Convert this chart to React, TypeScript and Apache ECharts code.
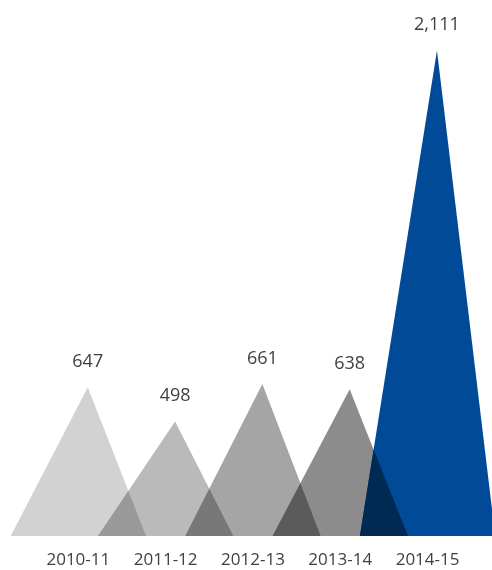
import React, { useEffect, useRef } from "react";
import * as echarts from "echarts";

const categories = ["2010-11", "2011-12", "2012-13", "2013-14", "2014-15"];
const values = [647, 498, 661, 638, 2111];
const colors = ["#d2d2d2", "#bababa", "#a5a5a5", "#8c8c8c", "#004a98"];

function hexToRgb(h: string) {
  const n = parseInt(h.slice(1), 16);
  return [(n >> 16) & 255, (n >> 8) & 255, n & 255];
}
function multiply(a: string, b: string) {
  const x = hexToRgb(a);
  const y = hexToRgb(b);
  const r = x.map((v, i) => Math.round((v * y[i]) / 255));
  return `rgb(${r[0]},${r[1]},${r[2]})`;
}

const HALF = 0.775; // half base width in band units
const APEX = 0.108; // apex offset in band units

export default function App() {
  const ref = useRef<HTMLDivElement>(null);
  useEffect(() => {
    if (!ref.current) return;
    const chart = echarts.init(ref.current, null, { renderer: "svg" });
    const tri = (api: any, idx: number) => {
      const band = api.size([1, 0])[0];
      const base = api.coord([idx, 0]);
      const top = api.coord([idx, values[idx]]);
      return {
        l: base[0] - HALF * band,
        r: base[0] + HALF * band,
        ax: base[0] + APEX * band,
        ay: top[1],
        y0: base[1],
      };
    };
    chart.setOption({
      animation: false,
      grid: { left: 34.7, right: 20.8, top: 30, bottom: 34 },
      xAxis: {
        type: "category",
        data: categories,
        axisLine: { show: false },
        axisTick: { show: false },
        axisLabel: {
          color: "#404040",
          fontFamily: "Open Sans",
          fontSize: 17,
          margin: 14,
        },
      },
      yAxis: {
        type: "value",
        min: 0,
        max: 2200,
        show: false,
        splitLine: { show: false },
      },
      series: [
        {
          type: "custom",
          clip: false,
          data: values.map((v, i) => [i, v]),
          renderItem: (params: any, api: any) => {
            const idx = params.dataIndex;
            const t = tri(api, idx);
            const children: any[] = [
              {
                type: "polygon",
                shape: { points: [[t.l, t.y0], [t.ax, t.ay], [t.r, t.y0]] },
                style: { fill: colors[idx] },
              },
            ];
            if (idx > 0) {
              const p = tri(api, idx - 1);
              const ka = (p.ax - p.r) / (p.y0 - p.ay);
              const kb = (t.ax - t.l) / (t.y0 - t.ay);
              const h = (p.r - t.l) / (kb - ka);
              children.push({
                type: "polygon",
                shape: {
                  points: [[t.l, t.y0], [t.l + h * kb, t.y0 - h], [p.r, t.y0]],
                },
                style: { fill: multiply(colors[idx - 1], colors[idx]) },
              });
            }
            children.push({
              type: "text",
              style: {
                text: values[idx].toLocaleString("en-US"),
                x: t.ax,
                y: t.ay - 27,
                align: "center",
                verticalAlign: "middle",
                fill: "#404040",
                fontFamily: "Open Sans",
                fontSize: 18,
              },
            });
            return { type: "group", children };
          },
        },
      ],
    });
    return () => chart.dispose();
  }, []);
  return (
    <div
      ref={ref}
      style={{ position: "fixed", left: 0, top: 0, width: 492, height: 570 }}
    />
  );
}
